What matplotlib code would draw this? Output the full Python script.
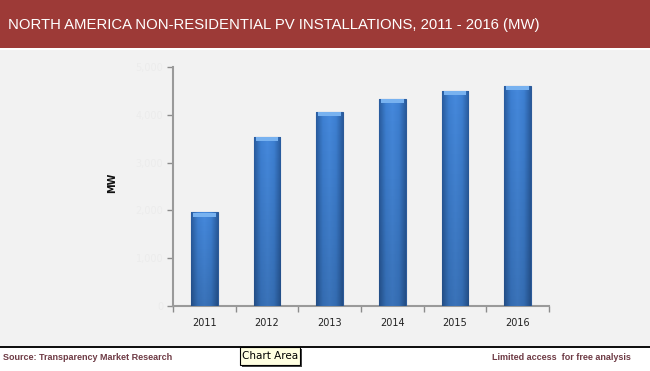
import numpy as np
import matplotlib.pyplot as plt
from matplotlib.patches import Rectangle
from matplotlib.colors import LinearSegmentedColormap

years = ["2011", "2012", "2013", "2014", "2015", "2016"]
mw = [1960, 3540, 4060, 4340, 4500, 4610]
y_ticks = [0, 1000, 2000, 3000, 4000, 5000]
y_tick_labels = ["0", "1,000", "2,000", "3,000", "4,000", "5,000"]

TITLE = "NORTH AMERICA NON-RESIDENTIAL PV INSTALLATIONS, 2011 - 2016 (MW)"
W, H = 650, 371
NARROW = ["Liberation Sans Narrow", "Liberation Sans", "DejaVu Sans"]

plt.rcParams["font.family"] = ["DejaVu Sans"]

fig = plt.figure(figsize=(W / 100, H / 100), dpi=100)
fig.patch.set_facecolor("white")

# header band, panel, footer rule
fig.patches.append(Rectangle((0, 1 - 48 / H), 1, 48 / H, transform=fig.transFigure,
                             facecolor="#9D3A37", edgecolor="none", zorder=-2))
fig.patches.append(Rectangle((0, 1 - 346 / H), 1, 296 / H, transform=fig.transFigure,
                             facecolor="#F2F2F2", edgecolor="none", zorder=-2))
fig.patches.append(Rectangle((0, 1 - 348 / H), 1, 2.5 / H, transform=fig.transFigure,
                             facecolor="#111111", edgecolor="none", zorder=-2))

fig.text(8 / W, 1 - 25 / H, TITLE, color="white", va="center", ha="left",
         family=NARROW, fontsize=10.7)

ax = fig.add_axes([173 / W, 1 - 306 / H, 376 / W, 239 / H])
ax.set_facecolor("none")
ax.set_zorder(5)

x = np.arange(len(years))
bars = ax.bar(x, mw, width=0.43, color="#3B78C8", edgecolor="#2C5A98", linewidth=0.8, zorder=3)

# bar shading: horizontal gradient + darker bottom, clipped to each bar
cmap = LinearSegmentedColormap.from_list("blu", ["#2A5C9E", "#3E80D2", "#4689DC", "#3E80D2", "#2A5C9E"])
gx = np.tile(np.linspace(0, 1, 64), (64, 1))
for b in bars:
    x0, y0 = b.get_x(), b.get_y()
    ext = [x0, x0 + b.get_width(), y0, y0 + b.get_height()]
    im = ax.imshow(gx, cmap=cmap, aspect="auto", zorder=3.5, extent=ext, origin="lower")
    im.set_clip_path(b)
    shade = np.zeros((64, 1, 4))
    shade[..., 3] = (1 - np.linspace(0, 1, 64))[:, None] * 0.16
    sh = ax.imshow(shade, aspect="auto", zorder=3.6, origin="lower", extent=ext)
    sh.set_clip_path(b)

# light bevel on top of each bar
cap = 0.016 * y_ticks[-1]
ax.bar(x, [cap] * len(x), bottom=[v - cap * 1.1 for v in mw], width=0.36,
       color="#78B2F0", edgecolor="none", zorder=4)

ax.set_xlim(-0.5, len(years) - 0.5)
ax.set_ylim(0, y_ticks[-1])
ax.set_yticks(y_ticks)
ax.set_yticklabels(y_tick_labels, color="#ECECEC", fontsize=7)
ax.set_xticks(x)
ax.set_xticklabels(years, fontsize=7, color="#222222")
ax.set_xticks(np.arange(-0.5, len(years)), minor=True)
ax.tick_params(axis="x", which="major", length=0, pad=9)
ax.tick_params(axis="x", which="minor", length=4, color="#8C8C8C", width=1)
ax.tick_params(axis="y", length=4, color="#8C8C8C", width=1, pad=3)

for s in ("top", "right"):
    ax.spines[s].set_visible(False)
for s in ("left", "bottom"):
    ax.spines[s].set_color("#9A9A9A")
    ax.spines[s].set_linewidth(1.5)

fig.text(112 / W, 1 - 183 / H, "MW", rotation=90, fontsize=7, fontweight="bold",
         va="center", ha="center", color="#111111")

# footer
fig.text(3 / W, 1 - 358 / H, "Source: Transparency Market Research", fontsize=6.5,
         fontweight="bold", color="#6E3B45", va="center", family=NARROW)
fig.text(631 / W, 1 - 358 / H, "Limited access  for free analysis", fontsize=6.5,
         fontweight="bold", color="#6E3B45", va="center", ha="right", family=NARROW)
fig.patches.append(Rectangle((242 / W, 1 - 367 / H), 60 / W, 18 / H, transform=fig.transFigure,
                             facecolor="#444444", edgecolor="none", zorder=1))
fig.patches.append(Rectangle((240 / W, 1 - 365 / H), 60 / W, 18 / H, transform=fig.transFigure,
                             facecolor="#FFFFE1", edgecolor="#000000", linewidth=0.8, zorder=2))
fig.text(270 / W, 1 - 356 / H, "Chart Area", fontsize=7.5, color="#000000",
         va="center", ha="center", zorder=3)

fig.savefig("out.png", dpi=100)
